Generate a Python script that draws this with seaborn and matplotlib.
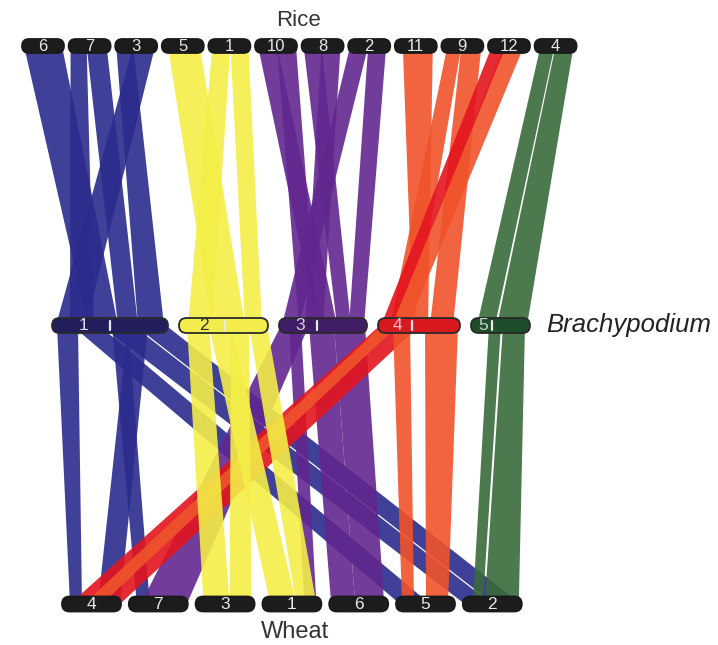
import numpy as np
import pandas as pd
import seaborn as sns
import matplotlib
matplotlib.use('Agg')
from matplotlib import pyplot as plt
from matplotlib.patches import FancyBboxPatch

sns.set_theme(style='white')
plt.rcParams['font.family'] = ['Liberation Sans', 'DejaVu Sans']

# chromosomes (lengths in drawing units)
rice_chr = ['6', '7', '3', '5', '1', '10', '8', '2', '11', '9', '12', '4']
rice_len = [42] * 12
brachy_chr = ['1', '2', '3', '4', '5']
brachy_len = [116, 89, 88, 82, 59]
brachy_cen = [58, 46, 38, 34, 21]
wheat_chr = ['4', '7', '3', '1', '6', '5', '2']
wheat_len = [59] * 7

# syntenic blocks rice -> brachypodium
top_src = ['6', '7', '7', '3', '3', '5', '1', '1', '10', '10', '8', '8', '2', '2',
           '11', '9', '9', '12', '12', '4', '4']
top_s0 = [2, 2, 18, 1, 18, 6, 4, 22, 3, 22, 2, 20, 2, 20, 8, 6, 20, 16, 4, 6, 21]
top_s1 = [40, 18, 38, 18, 40, 38, 22, 40, 22, 41, 20, 39, 20, 38, 38, 20, 40, 36, 18, 20, 39]
top_dst = ['1', '1', '1', '1', '1', '2', '2', '2', '3', '3', '3', '3', '3', '3',
           '4', '4', '4', '4', '4', '5', '5']
top_d0 = [36, 18, 66, 86, 4, 33, 9, 66, 38, 20, 58, 26, 3, 70, 35, 12, 52, 14, 3, 6, 26]
top_d1 = [66, 42, 86, 112, 34, 66, 33, 83, 58, 38, 72, 44, 20, 85, 50, 35, 75, 30, 14, 24, 56]
top_col = ['blue'] * 5 + ['yellow'] * 3 + ['purple'] * 6 + ['orange'] * 4 + ['red'] + ['green'] * 2

# syntenic blocks brachypodium -> wheat
bot_src = ['1', '1', '1', '1', '1', '1', '3', '3', '3', '3', '4', '4', '4', '4',
           '2', '2', '2', '2', '5', '5']
bot_s0 = [5, 60, 76, 20, 49, 83, 2, 30, 55, 10, 2, 4, 15, 47, 8, 30, 52, 70, 18, 32]
bot_s1 = [26, 76, 96, 47, 81, 114, 30, 55, 86, 22, 42, 20, 32, 80, 30, 52, 70, 88, 30, 54]
bot_dst = ['4', '7', '4', '5', '2', '2', '7', '6', '6', '1', '4', '4', '5', '5',
           '3', '1', '3', '1', '2', '2']
bot_d0 = [8, 8, 36, 4, 2, 31, 12, 2, 26, 42, 8, 22, 6, 30, 8, 8, 34, 34, 10, 22]
bot_d1 = [20, 21, 58, 34, 29, 58, 58, 26, 55, 54, 58, 40, 18, 52, 34, 34, 56, 54, 20, 56]
bot_col = ['blue'] * 6 + ['purple'] * 4 + ['red', 'orange', 'orange', 'orange'] + \
          ['yellow'] * 4 + ['green'] * 2

pal = {'blue': '#2A2B8C', 'yellow': '#F4EE48', 'purple': '#62278F',
       'orange': '#F0532A', 'red': '#E3151F', 'green': '#3A6A3B'}
brachy_fill = ['#221E5C', '#F2EC4C', '#3F1E66', '#D7191F', '#1E4D2B']
brachy_txt = ['#d8d8e8', '#333333', '#d8d0e0', '#f8c8c8', '#c8d8c8']


def layout(names, lens, x0, gap):
    start = {}
    x = x0
    for n, l in zip(names, lens):
        start[n] = x
        x += l + gap
    return start


rice_x = layout(rice_chr, rice_len, 22, 4.6)
brachy_x = layout(brachy_chr, brachy_len, 52, 11)
wheat_x = layout(wheat_chr, wheat_len, 62, 7.8)
y_rice, y_brachy, y_wheat = 46, 325.5, 604

top = pd.DataFrame({'src': top_src, 's0': top_s0, 's1': top_s1,
                    'dst': top_dst, 'd0': top_d0, 'd1': top_d1, 'col': top_col})
bot = pd.DataFrame({'src': bot_src, 's0': bot_s0, 's1': bot_s1,
                    'dst': bot_dst, 'd0': bot_d0, 'd1': bot_d1, 'col': bot_col})

fig = plt.figure(figsize=(7.18, 6.45), dpi=100)
ax = fig.add_axes([0, 0, 1, 1])
ax.set_xlim(0, 718)
ax.set_ylim(645, 0)
ax.axis('off')


def draw_ribbons(df, sx, dx, ya, yb, order):
    for c in order:
        for _, r in df[df['col'] == c].iterrows():
            a0, a1 = sx[r['src']] + r['s0'], sx[r['src']] + r['s1']
            b0, b1 = dx[r['dst']] + r['d0'], dx[r['dst']] + r['d1']
            ax.fill([a0, a1, b1, b0], [ya, ya, yb, yb], color=pal[c], alpha=0.9, lw=0, zorder=2)


draw_ribbons(top, rice_x, brachy_x, y_rice, y_brachy,
             ['blue', 'yellow', 'purple', 'orange', 'red', 'green'])
draw_ribbons(bot, brachy_x, wheat_x, y_brachy, y_wheat,
             ['blue', 'purple', 'red', 'orange', 'yellow', 'green'])


def box(x, y, w, h, fc, ec='#1a1a1a'):
    p = FancyBboxPatch((x, y - h / 2), w, h, boxstyle='round,pad=0,rounding_size=%g' % (h / 2),
                       fc=fc, ec=ec, lw=1.3, zorder=5)
    ax.add_patch(p)


for n, l in zip(rice_chr, rice_len):
    box(rice_x[n], y_rice, l, 14, '#1c1c1c')
    ax.text(rice_x[n] + l / 2, y_rice + 0.5, n, color='#e8e8e8', fontsize=12,
            ha='center', va='center', zorder=6)

for i, (n, l) in enumerate(zip(brachy_chr, brachy_len)):
    box(brachy_x[n], y_brachy, l, 15, brachy_fill[i], ec='#2a2a2a')
    cx = brachy_x[n] + brachy_cen[i]
    ax.plot([cx, cx], [y_brachy - 4.5, y_brachy + 4.5], color='#e8e8e8', lw=1.6, zorder=6)
    ax.text(brachy_x[n] + brachy_cen[i] / 2 + 2, y_brachy + 0.5, n, color=brachy_txt[i],
            fontsize=12.5, ha='center', va='center', zorder=6)

for n, l in zip(wheat_chr, wheat_len):
    box(wheat_x[n], y_wheat, l, 15, '#1c1c1c')
    ax.text(wheat_x[n] + l / 2, y_wheat + 0.5, n, color='#e8e8e8', fontsize=12.5,
            ha='center', va='center', zorder=6)

ax.text(298, 20, 'Rice', fontsize=16, color='#333333', ha='center', va='center')
ax.text(295, 632, 'Wheat', fontsize=17, color='#333333', ha='center', va='center')
ax.text(629, 325, 'Brachypodium', fontsize=18.5, style='italic', color='#222222',
        ha='center', va='center')

plt.savefig('out.png', dpi=100)
